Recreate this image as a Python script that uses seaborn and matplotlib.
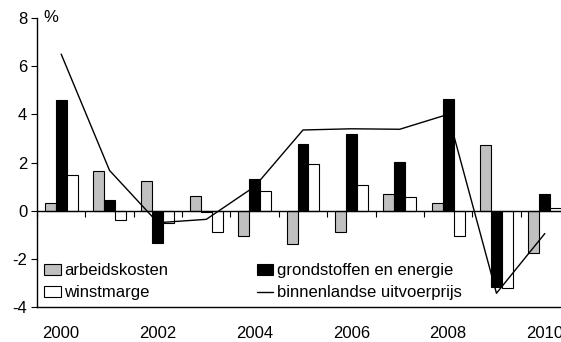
import numpy as np
import pandas as pd
import matplotlib
matplotlib.use("Agg")
import matplotlib.pyplot as plt
import seaborn as sns
from matplotlib.patches import Patch
from matplotlib.lines import Line2D

# data (year-on-year change, %)
years = [str(y) for y in range(2000, 2011)]
arbeidskosten = [0.3, 1.65, 1.25, 0.6, -1.05, -1.38, -0.9, 0.7, 0.32, 2.73, -1.77]
grondstoffen = [4.6, 0.45, -1.33, -0.05, 1.3, 2.77, 3.18, 2.03, 4.63, -3.15, 0.7]
winstmarge = [1.5, -0.37, -0.52, -0.9, 0.82, 1.94, 1.05, 0.55, -1.04, -3.23, 0.1]
uitvoerprijs = [6.5, 1.67, -0.5, -0.36, 1.0, 3.35, 3.4, 3.38, 4.0, -3.43, -0.95]

series_names = ["arbeidskosten", "grondstoffen en energie", "winstmarge"]
series_colors = ["#c0c0c0", "#000000", "#ffffff"]
line_name = "binnenlandse uitvoerprijs"

df = pd.DataFrame({
    "jaar": years * 3,
    "waarde": arbeidskosten + grondstoffen + winstmarge,
    "reeks": [series_names[0]] * 11 + [series_names[1]] * 11 + [series_names[2]] * 11,
})

sns.set_style("white", {"text.color": "black", "xtick.color": "black",
                        "ytick.color": "black", "axes.labelcolor": "black"})
plt.rcParams["font.family"] = ["Liberation Sans", "DejaVu Sans"]
plt.rcParams["font.size"] = 12
plt.rcParams["axes.unicode_minus"] = False

fig = plt.figure(figsize=(5.61, 3.42), dpi=100)
ax = fig.add_axes([37 / 561, 35 / 342, 532 / 561, 289 / 342])

sns.barplot(data=df, x="jaar", y="waarde", hue="reeks", hue_order=series_names,
            palette=series_colors, width=0.68, edgecolor="black", linewidth=0.8,
            saturation=1, legend=False, ax=ax)
sns.pointplot(x=years, y=uitvoerprijs, color="black", markers="", linewidth=1.0,
              ax=ax)

ax.set_xlim(-0.5, 10.5)
ax.set_ylim(-4, 8)
ax.set_yticks(np.arange(-4, 9, 2))
ax.set_xticks(range(0, 11, 2))
ax.set_xticklabels(years[::2])
ax.set_xlabel("")
ax.set_ylabel("")
ax.tick_params(axis="x", length=0, pad=14, labelsize=12, labelcolor="black")
ax.tick_params(axis="y", length=4, width=0.8, direction="out", labelsize=12,
               left=True, pad=3, color="black", labelcolor="black")

for side in ["top", "right"]:
    ax.spines[side].set_visible(False)
for side in ["left", "bottom"]:
    ax.spines[side].set_color("black")
    ax.spines[side].set_linewidth(1.0)

# zero line with category boundary ticks
ax.axhline(0, color="black", lw=1.0, zorder=1)
ax2 = ax.twiny()
ax2.set_xlim(ax.get_xlim())
ax2.xaxis.set_ticks_position("bottom")
ax2.spines["bottom"].set_position(("data", 0))
for side in ["top", "right", "left", "bottom"]:
    ax2.spines[side].set_visible(False)
ax2.set_xticks(np.arange(-0.5, 11, 1))
ax2.set_xticklabels([])
ax2.tick_params(axis="x", length=4, width=0.8, direction="out", color="black")

ax.text(0.012, 8, "%", transform=ax.get_yaxis_transform(), ha="left", va="center",
        fontsize=12, color="black")

handles = [
    Patch(facecolor=series_colors[0], edgecolor="black", linewidth=0.8),
    Patch(facecolor=series_colors[2], edgecolor="black", linewidth=0.8),
    Patch(facecolor=series_colors[1], edgecolor="black", linewidth=0.8),
    Line2D([0], [0], color="black", lw=1.0),
]
labels = [series_names[0], series_names[2], series_names[1], line_name]
leg = ax.legend(handles, labels, ncol=2, loc="lower left", bbox_to_anchor=(-0.005, -0.012),
                frameon=False, fontsize=12, handlelength=1.0, handleheight=0.7,
                handletextpad=0.2, columnspacing=5.3, labelspacing=0.42,
                borderaxespad=0.2)
for t in leg.get_texts():
    t.set_color("black")

fig.savefig("out.png", dpi=100)
